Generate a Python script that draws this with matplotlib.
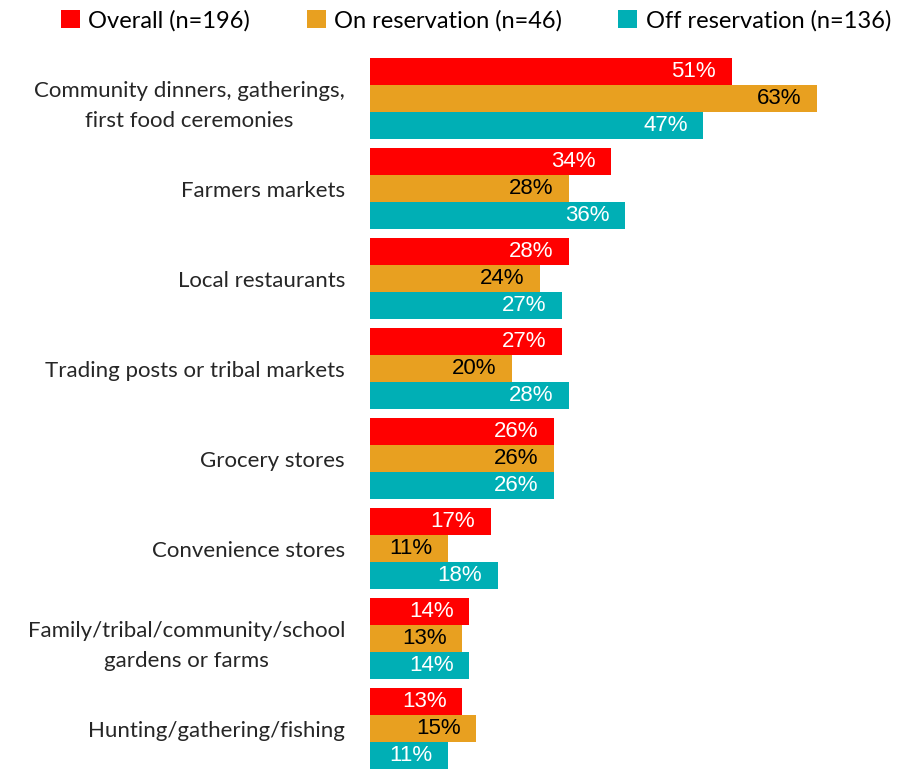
import matplotlib.pyplot as plt
from matplotlib.patches import Patch

categories = [
    "Community dinners, gatherings,\nfirst food ceremonies",
    "Farmers markets",
    "Local restaurants",
    "Trading posts or tribal markets",
    "Grocery stores",
    "Convenience stores",
    "Family/tribal/community/school\ngardens or farms",
    "Hunting/gathering/fishing",
]
overall = [51, 34, 28, 27, 26, 17, 14, 13]
on_res = [63, 28, 24, 20, 26, 11, 13, 15]
off_res = [47, 36, 27, 28, 26, 18, 14, 11]
series_names = ["Overall (n=196)", "On reservation (n=46)", "Off reservation (n=136)"]

colors = ["#FF0000", "#E8A020", "#00AFB5"]
label_colors = ["white", "black", "white"]
cat_font = "Lato"
num_font = "Liberation Sans"

fig = plt.figure(figsize=(9.13, 7.7), dpi=100)
W, H = 913, 770
ax = fig.add_axes([370 / W, 0, (902 - 370) / W, (770 - 53.5) / H])

h = 0.3
for k, vals in enumerate([overall, on_res, off_res]):
    for i, v in enumerate(vals):
        y = i + (k - 1) * h
        ax.barh(y, v, height=h, color=colors[k], edgecolor="none")
        ax.text(v - 2.2, y, f"{v}%", ha="right", va="center",
                color=label_colors[k], fontsize=16, family=num_font)

ax.set_xlim(0, 75)
ax.set_ylim(7.461, -0.5)
ax.set_yticks(range(len(categories)))
ax.set_yticklabels(categories, fontsize=16, family=cat_font,
                   color="#262626", multialignment="center", linespacing=1.65)
ax.tick_params(axis="y", length=0, pad=18)
ax.set_xticks([])
for s in ax.spines.values():
    s.set_visible(False)

handles = [Patch(facecolor=c, edgecolor="none") for c in colors]
fig.legend(handles, series_names, loc="center", bbox_to_anchor=(476 / W, 1 - 20.5 / H),
           ncol=3, frameon=False, handlelength=0.8, handleheight=0.8,
           handletextpad=0.35, columnspacing=2.4,
           prop={"family": cat_font, "size": 17})

fig.savefig("out.png", dpi=100)
